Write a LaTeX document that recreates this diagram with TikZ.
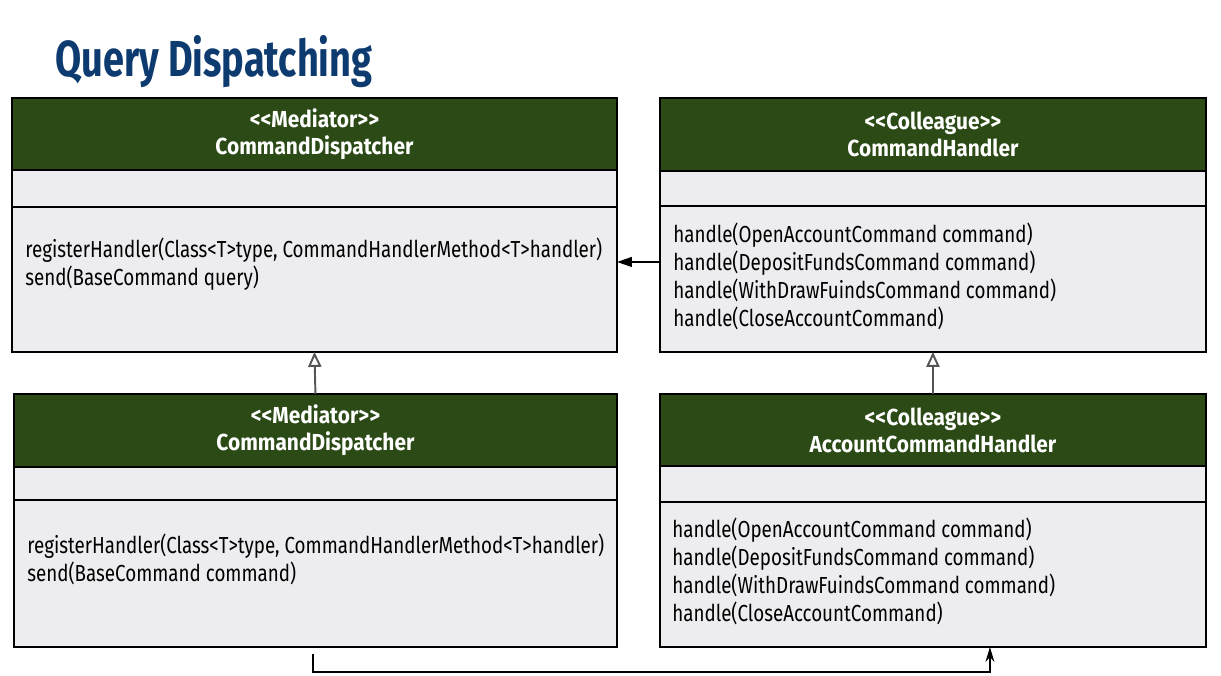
\documentclass[tikz,border=0pt]{standalone}
\usepackage{fontspec}
\setmainfont{Fira Sans}[FakeStretch=0.81]
\newfontfamily\titlefont{Fira Sans}[FakeStretch=0.75]
\newfontfamily\hdrfont{Fira Sans}[FakeStretch=0.9]
\usetikzlibrary{arrows.meta}
\definecolor{hdrgreen}{HTML}{2B4A16}
\definecolor{boxgray}{HTML}{EDEDF0}
\definecolor{titleblue}{HTML}{0D3B70}
\definecolor{genarrow}{HTML}{555555}
\tikzset{
  hdr/.style={anchor=north west, draw=black, line width=1.1pt, outer sep=0pt, fill=hdrgreen, text=white,
    font=\hdrfont\bfseries\fontsize{13.2}{15.3}\selectfont, align=center, inner sep=0pt},
  compart/.style={anchor=north west, draw=black, line width=1.1pt, outer sep=0pt, fill=boxgray, inner sep=0pt},
  mtext/.style={anchor=north west, align=left, inner sep=0pt, font=\fontsize{13.2}{15.9}\selectfont},
  gen/.style={draw=genarrow, line width=1.1pt, -{Triangle[open, length=8.5pt, width=7.5pt]}},
  assoc/.style={draw=black, line width=1.1pt, -{Triangle[length=8.5pt, width=5.5pt]}},
  bus/.style={draw=black, line width=1.1pt, -{Stealth[length=8.5pt, width=5pt]}}
}
\begin{document}
\begin{tikzpicture}[x=0.02cm, y=-0.02cm]
        \useasboundingbox (0,0) rectangle (1221,676);
        %title
        \node[anchor=base west, inner sep=0pt, text=titleblue,
          font=\titlefont\bfseries\fontsize{28.8}{30}\selectfont] (title) at (55,76) {Query Dispatching};
        %top left class
        \node[hdr, minimum width=12.1cm, minimum height=1.44cm] (dispH) at (12,98) {<\kern0pt<Mediator>\kern0pt>\\CommandDispatcher};
        \node[compart, minimum width=12.1cm, minimum height=0.74cm] (dispA) at (dispH.south west) {};
        \node[compart, minimum width=12.1cm, minimum height=2.9cm] (dispM) at (dispA.south west) {};
        \node[mtext] (dispT) at ([shift={(13,31)}]dispM.north west) {registerHandler(Class<T>type, CommandHandlerMethod<T>handler)\\send(BaseCommand query)};
        %top right class
        \node[hdr, minimum width=10.92cm, minimum height=1.46cm] (hndH) at (660,98) {<\kern0pt<Colleague>\kern0pt>\\CommandHandler};
        \node[compart, minimum width=10.92cm, minimum height=0.7cm] (hndA) at (hndH.south west) {};
        \node[compart, minimum width=10.92cm, minimum height=2.92cm] (hndM) at (hndA.south west) {};
        \node[mtext] (hndT) at ([shift={(13,17)}]hndM.north west) {handle(OpenAccountCommand command)\\handle(DepositFundsCommand command)\\handle(WithDrawFuindsCommand command)\\handle(CloseAccountCommand)};
        %bottom left class
        \node[hdr, minimum width=12.06cm, minimum height=1.46cm] (implH) at (14,394) {<\kern0pt<Mediator>\kern0pt>\\CommandDispatcher};
        \node[compart, minimum width=12.06cm, minimum height=0.66cm] (implA) at (implH.south west) {};
        \node[compart, minimum width=12.06cm, minimum height=2.94cm] (implM) at (implA.south west) {};
        \node[mtext] (implT) at ([shift={(13,34)}]implM.north west) {registerHandler(Class<T>type, CommandHandlerMethod<T>handler)\\send(BaseCommand command)};
        %bottom right class
        \node[hdr, minimum width=10.92cm, minimum height=1.44cm] (achH) at (660,394) {<\kern0pt<Colleague>\kern0pt>\\AccountCommandHandler};
        \node[compart, minimum width=10.92cm, minimum height=0.72cm] (achA) at (achH.south west) {};
        \node[compart, minimum width=10.92cm, minimum height=2.9cm] (achM) at (achA.south west) {};
        \node[mtext] (achT) at ([shift={(12,16)}]achM.north west) {handle(OpenAccountCommand command)\\handle(DepositFundsCommand command)\\handle(WithDrawFuindsCommand command)\\handle(CloseAccountCommand)};
        %arrows
        \draw[gen] (implH.north) -- (dispM.south);
        \draw[gen] (achH.north) -- (hndM.south);
        \draw[assoc] ([yshift=0.34cm]hndM.west) -- ([yshift=0.35cm]dispM.east);
        \coordinate (busStart) at ([shift={(-2,7)}]implM.south);
        \draw[bus] (busStart) -- ++(0,18) -| ([xshift=1.14cm]achM.south);
\end{tikzpicture}
\end{document}
